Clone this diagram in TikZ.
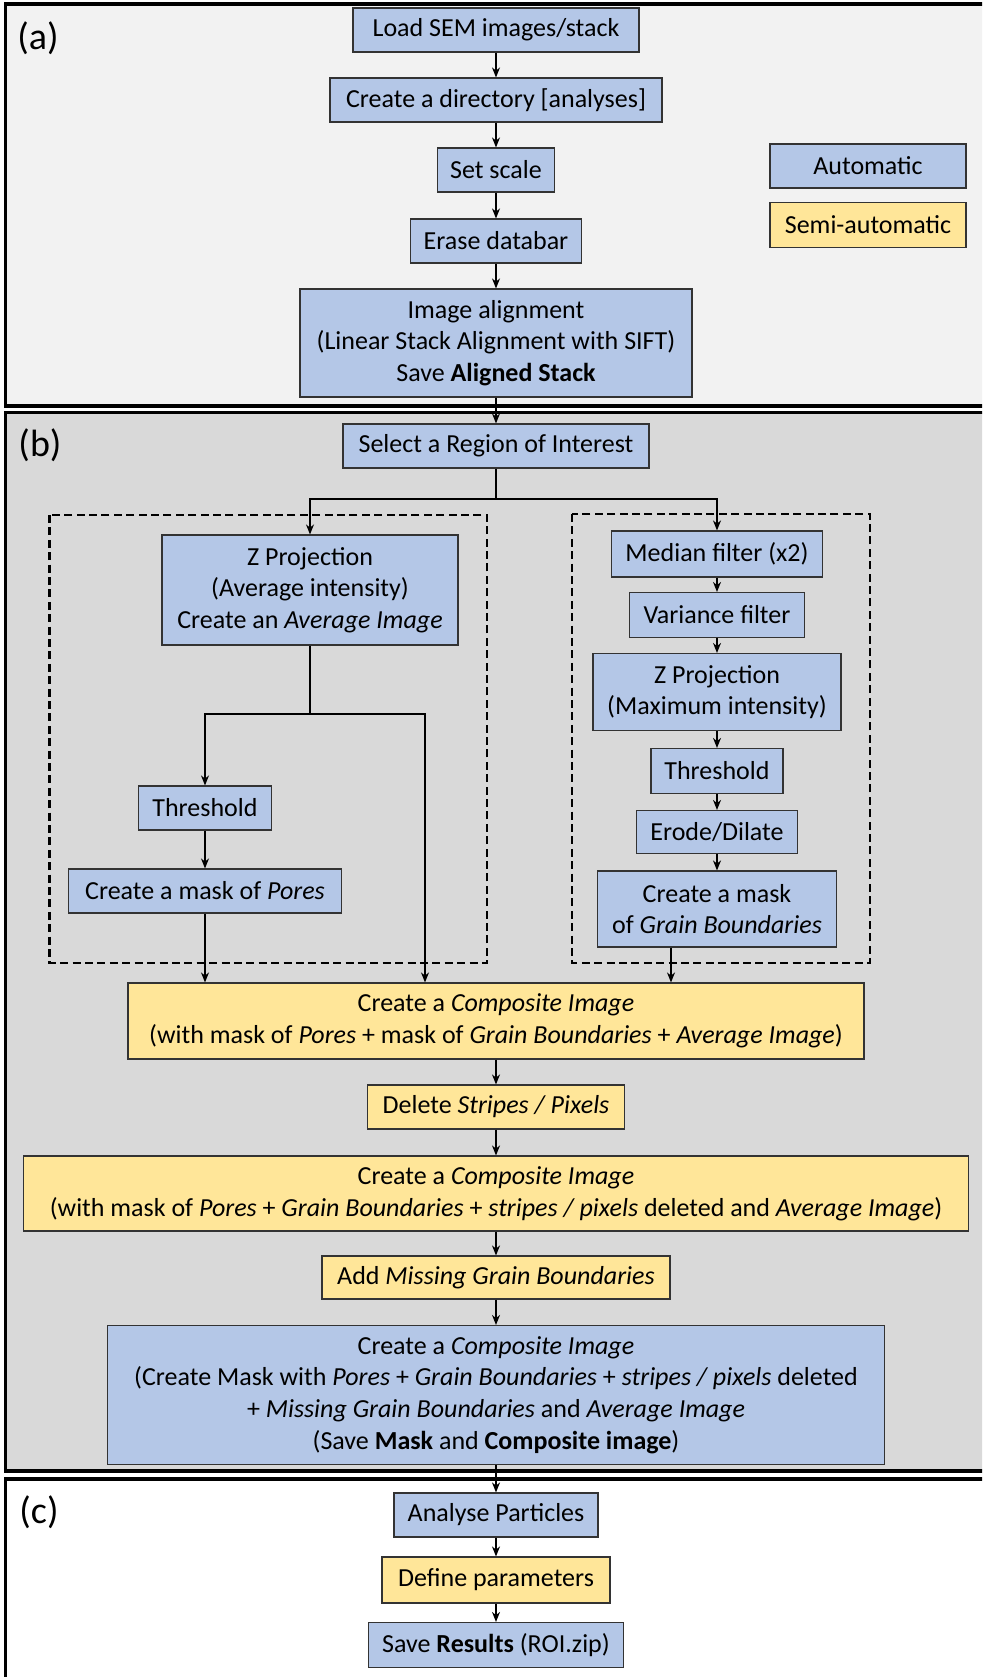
\documentclass[tikz,border=0pt]{standalone}
\usepackage{fontspec}
\setmainfont{Carlito}
\usepackage{tikz}
\usetikzlibrary{arrows.meta,positioning}

\definecolor{autoblue}{HTML}{B4C7E7}
\definecolor{semiyellow}{HTML}{FFE699}
\definecolor{panelA}{HTML}{F2F2F2}
\definecolor{panelB}{HTML}{D9D9D9}

\tikzset{
    box/.style={draw=black!80, line width=0.6pt, inner sep=0pt, align=center,
                font=\fontsize{13}{15.8}\selectfont},
    wh/.style 2 args={minimum width=#1, minimum height=#2},
}

\begin{document}
\begin{tikzpicture}[%
    x=0.5pt, y=-0.5pt,
    >={Stealth[length=5pt,width=4pt]},
    line width=0.7pt,
    autobox/.style={box, fill=autoblue},
    semibox/.style={box, fill=semiyellow},
    panelframe/.style={draw, line width=1.7pt},
    groupbox/.style={draw, line width=1.4pt, dash pattern=on 4pt off 2.2pt},
    tag/.style={font=\fontsize{19}{22}\selectfont, inner sep=0pt}
    ]
    \clip (0,0) rectangle (982,1677);
    \useasboundingbox (0,0) rectangle (982,1677);

    % panels
    \draw[panelframe, fill=panelA] (5.5,4) rectangle (1000,406);
    \draw[panelframe, fill=panelB] (5.5,412.5) rectangle (1000,1471);
    \draw[panelframe, fill=white] (5.5,1479) rectangle (1000,1700);
    \node[tag] (tagA) at (38,38)   {(a)};
    \node[tag] (tagB) at (40,445)  {(b)};
    \node[tag] (tagC) at (39,1512) {(c)};

    % (a)
    \node[autobox, wh={143pt}{22pt}]   (load)  at (496,30)  {Load SEM images/stack};
    \node[autobox, wh={166pt}{22pt}]   (dir)   at (496,100) {Create a directory [analyses]};
    \node[autobox, wh={58.5pt}{22pt}]  (scale) at (496,170) {Set scale};
    \node[autobox, wh={85.5pt}{22pt}]  (erase) at (496,241) {Erase databar};
    \node[autobox, wh={196pt}{54pt}]   (align) at (496,343) {Image alignment\\
        (Linear Stack Alignment with SIFT)\\Save \textbf{Aligned Stack}};

    \node[autobox, wh={98pt}{22pt}]    (legA)  at (868,166) {Automatic};
    \node[semibox, wh={98pt}{22.5pt}]  (legS)  at (868,225) {Semi-automatic};

    % (b)
    \draw[groupbox] (49.5,515) rectangle (487,963);
    \draw[groupbox] (572,514) rectangle (870,963);

    \node[autobox, wh={153pt}{22pt}]   (roi)   at (496,446) {Select a Region of Interest};

    \node[autobox, wh={148pt}{55pt}]   (zavg)  at (310,590) {Z Projection\\
        (Average intensity)\\Create an \textit{Average Image}};
    \node[autobox, wh={66.5pt}{22pt}]  (thrL)  at (205,808) {Threshold};
    \node[autobox, wh={136.5pt}{22pt}] (pores) at (205,891) {Create a mask of \textit{Pores}};

    \node[autobox, wh={105.5pt}{23pt}] (median)   at (717,554) {Median filter (x2)};
    \node[autobox, wh={87.5pt}{22.5pt}] (variance) at (717,615) {Variance filter};
    \node[autobox, wh={124pt}{38.5pt}] (zmax)     at (717,692) {Z Projection\\(Maximum intensity)};
    \node[autobox, wh={66pt}{22.5pt}]  (thrR)     at (717,771) {Threshold};
    \node[autobox, wh={80.5pt}{21.5pt}] (erode)   at (717,832) {Erode/Dilate};
    \node[autobox, wh={119.5pt}{38pt}] (grain)    at (717,909) {Create a mask\\of \textit{Grain Boundaries}};

    \node[semibox, wh={368pt}{38pt}]   (comp1) at (496,1021) {Create a \textit{Composite Image}\\
        (with mask of \textit{Pores} + mask of \textit{Grain Boundaries} + \textit{Average Image})};
    \node[semibox, wh={128.5pt}{22pt}] (delete) at (496,1107) {Delete \textit{Stripes / Pixels}};
    \node[semibox, wh={472.5pt}{37.5pt}] (comp2) at (496,1193.5) {Create a \textit{Composite Image}\\
        (with mask of \textit{Pores} + \textit{Grain Boundaries} + \textit{stripes / pixels} deleted and \textit{Average Image})};
    \node[semibox, wh={174pt}{21.5pt}] (add)   at (496,1277.5) {Add \textit{Missing Grain Boundaries}};
    \node[autobox, wh={388.5pt}{69.5pt}] (final) at (496,1395) {Create a \textit{Composite Image}\\
        (Create Mask with \textit{Pores} + \textit{Grain Boundaries} + \textit{stripes / pixels} deleted\\
        + \textit{Missing Grain Boundaries} and \textit{Average Image}\\
        (Save \textbf{Mask} and \textbf{Composite image})};

    % (c)
    \node[autobox, wh={102pt}{22pt}]   (analyse) at (496,1515) {Analyse Particles};
    \node[semibox, wh={114pt}{23pt}]   (define)  at (496,1580) {Define parameters};
    \node[autobox, wh={127.5pt}{22.5pt}] (save)  at (496,1645) {Save \textbf{Results} (ROI.zip)};

    % connectors
    \path[->] (load) edge (dir)
              (dir) edge (scale)
              (scale) edge (erase)
              (erase) edge (align)
              (align) edge (roi);

    \coordinate (split) at (496,499);
    \draw (roi) -- (split);
    \draw[->] (split) -| (zavg);
    \draw[->] (split) -| (median);

    \coordinate (zsplit) at (310,714);
    \coordinate (avgin) at (425,714);
    \draw (zavg) -- (zsplit);
    \draw[->] (zsplit) -| (thrL);
    \draw[->] (zsplit) -- (avgin) -- (avgin |- comp1.north);
    \path[->] (thrL) edge (pores);
    \draw[->] (pores) -- (pores |- comp1.north);

    \path[->] (median) edge (variance)
              (variance) edge (zmax)
              (zmax) edge (thrR)
              (thrR) edge (erode)
              (erode) edge (grain);
    \draw[->] ([xshift=-23pt]grain.south) -- ([xshift=-23pt]grain.south |- comp1.north);

    \path[->] (comp1) edge (delete)
              (delete) edge (comp2)
              (comp2) edge (add)
              (add) edge (final)
              (final) edge (analyse)
              (analyse) edge (define)
              (define) edge (save);

\end{tikzpicture}
\end{document}
